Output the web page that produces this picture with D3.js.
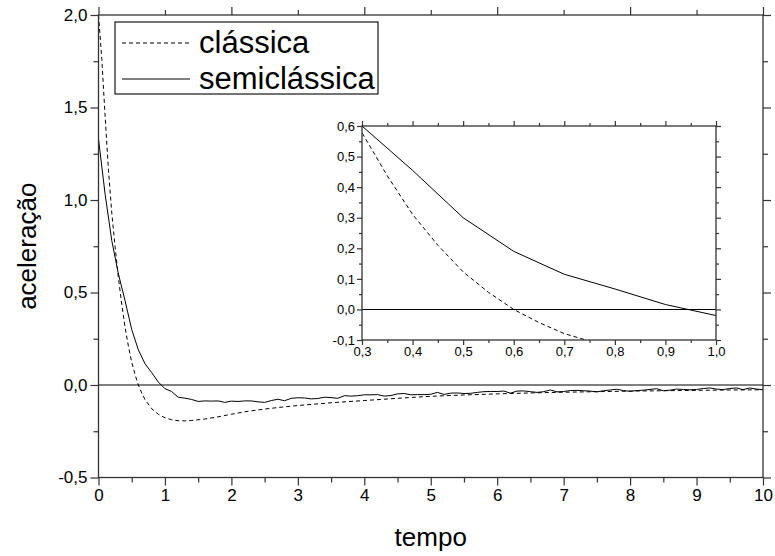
<!DOCTYPE html>
<html><head><meta charset="utf-8">
<script src="https://cdn.jsdelivr.net/npm/d3@7"></script>
<style>body{margin:0;background:#fff}svg{display:block;font-family:"Liberation Sans",Arial,sans-serif}</style>
</head><body><svg id="c" width="775" height="556"></svg>
<script>
// ---- data ----
const classicTime  = [0,0.05,0.1,0.15,0.2,0.25,0.3,0.35,0.4,0.45,0.5,0.55,0.6,0.65,0.7,0.8,0.9,1.0,1.1,1.2,1.3,1.4,1.6,1.8,2.0,2.25,2.5,2.75,3.0,3.5,4.0,4.5,5.0,5.5,6.0,6.5,7.0,7.5,8.0,8.5,9.0,9.5,10.0];
const classicAccel = [2.0,1.76,1.45,1.16,0.93,0.745,0.578,0.437,0.311,0.21,0.123,0.056,0.0,-0.043,-0.079,-0.128,-0.158,-0.177,-0.188,-0.193,-0.194,-0.192,-0.184,-0.172,-0.158,-0.142,-0.13,-0.12,-0.111,-0.096,-0.084,-0.072,-0.061,-0.054,-0.048,-0.043,-0.039,-0.036,-0.033,-0.031,-0.029,-0.027,-0.026];
const semiTime = [0,0.1,0.2,0.3,0.4,0.5,0.6,0.7,0.8,0.9,1.0,1.1,1.2,1.3,1.4,1.5,1.6,1.7,1.8,1.9,2.0,2.1,2.2,2.3,2.4,2.5,2.6,2.7,2.8,2.9,3.0,3.1,3.2,3.3,3.4,3.5,3.6,3.7,3.8,3.9,4.0,4.1,4.2,4.3,4.4,4.5,4.6,4.7,4.8,4.9,5.0,5.1,5.2,5.3,5.4,5.5,5.6,5.7,5.8,5.9,6.0,6.1,6.2,6.3,6.4,6.5,6.6,6.7,6.8,6.9,7.0,7.1,7.2,7.3,7.4,7.5,7.6,7.7,7.8,7.9,8.0,8.1,8.2,8.3,8.4,8.5,8.6,8.7,8.8,8.9,9.0,9.1,9.2,9.3,9.4,9.5,9.6,9.7,9.8,9.9,10.0];
const semiAccel = [1.33,1.03,0.78,0.60,0.455,0.300,0.190,0.115,0.067,0.016,-0.020,-0.035,-0.066,-0.071,-0.078,-0.089,-0.086,-0.087,-0.086,-0.094,-0.087,-0.089,-0.086,-0.086,-0.091,-0.094,-0.084,-0.077,-0.085,-0.072,-0.069,-0.070,-0.075,-0.073,-0.066,-0.068,-0.072,-0.058,-0.060,-0.058,-0.053,-0.053,-0.052,-0.060,-0.057,-0.048,-0.046,-0.053,-0.052,-0.052,-0.050,-0.040,-0.051,-0.044,-0.043,-0.046,-0.045,-0.040,-0.036,-0.035,-0.035,-0.033,-0.044,-0.033,-0.032,-0.036,-0.040,-0.036,-0.027,-0.037,-0.035,-0.030,-0.029,-0.031,-0.033,-0.037,-0.031,-0.027,-0.023,-0.030,-0.034,-0.030,-0.028,-0.024,-0.020,-0.031,-0.028,-0.022,-0.024,-0.026,-0.024,-0.019,-0.016,-0.022,-0.025,-0.019,-0.016,-0.025,-0.016,-0.022,-0.025];
const seriesNames = ["clássica","semiclássica"];
const mainXTicks = [0,1,2,3,4,5,6,7,8,9,10];
const mainXMinor = [0.5,1.5,2.5,3.5,4.5,5.5,6.5,7.5,8.5,9.5];
const mainTopMajor = [0,2,4,6,8,10];
const mainTopMinor = [1,3,5,7,9];
const mainYTicks = [-0.5,0,0.5,1.0,1.5,2.0];
const mainYMinor = [-0.25,0.25,0.75,1.25,1.75];
const insetXTicks = [0.3,0.4,0.5,0.6,0.7,0.8,0.9,1.0];
const insetXMinor = [0.35,0.45,0.55,0.65,0.75,0.85,0.95];
const insetYTicks = [-0.1,0,0.1,0.2,0.3,0.4,0.5,0.6];
const insetYMinor = [-0.05,0.05,0.15,0.25,0.35,0.45,0.55];
const xTitle = "tempo", yTitle = "aceleração";

// ---- drawing ----
const svg = d3.select("#c");
const comma1 = d => d3.format(".1f")(d).replace("−","-").replace(".",",");
const AX = "#333";

const classic = classicTime.map((t,i)=>[t,classicAccel[i]]);
const semi = semiTime.map((t,i)=>[t,semiAccel[i]]);

function panel(g, x, y, opt){
  const [x0,x1] = x.range(), [y0,y1] = y.range();
  const id = opt.id;
  svg.append("clipPath").attr("id",id).append("rect")
    .attr("x",x0).attr("y",y1).attr("width",x1-x0).attr("height",y0-y1);
  g.append("rect").attr("x",x0).attr("y",y1).attr("width",x1-x0).attr("height",y0-y1)
    .attr("fill","#fff");
  const plot = g.append("g").attr("clip-path",`url(#${id})`);
  plot.append("line").attr("x1",x0).attr("x2",x1).attr("y1",y(0)).attr("y2",y(0))
    .attr("stroke","#000").attr("stroke-width",1.1);
  const line = d3.line().x(d=>x(d[0])).y(d=>y(d[1]));
  plot.append("path").datum(classic).attr("d",line).attr("fill","none")
    .attr("stroke","#000").attr("stroke-width",1).attr("stroke-dasharray","4,3");
  plot.append("path").datum(semi).attr("d",line).attr("fill","none")
    .attr("stroke","#000").attr("stroke-width",1);

  const axes = [
    [d3.axisBottom(x), y0, opt.xTicks, opt.big, opt.xfmt],
    [d3.axisBottom(x), y0, opt.xMinor, opt.small, null],
    [d3.axisTop(x), y1, opt.topMajor, opt.big, null],
    [d3.axisTop(x), y1, opt.topMinor, opt.small, null],
    [d3.axisLeft(y), null, opt.yTicks, opt.big, comma1],
    [d3.axisLeft(y), null, opt.yMinor, opt.small, null],
    [d3.axisRight(y), null, opt.yTicks, opt.big, null],
    [d3.axisRight(y), null, opt.yMinor, opt.small, null]
  ];
  axes.forEach(([ax,pos,vals,size,fmt],i)=>{
    const a = ax.tickValues(vals).tickSize(size).tickSizeOuter(0).tickFormat(fmt||"").tickPadding(opt.pad);
    const gg = g.append("g");
    if(i<4) gg.attr("transform",`translate(0,${pos})`);
    else if(i<6) gg.attr("transform",`translate(${x0},0)`);
    else gg.attr("transform",`translate(${x1},0)`);
    gg.call(a);
    gg.select(".domain").remove();
    gg.selectAll(".tick line").attr("stroke",AX).attr("stroke-width",1.2);
    gg.selectAll("text").attr("fill","#000").style("font-size",opt.fs+"px")
      .style("font-family",'"Liberation Sans",Arial,sans-serif');
  });
  g.append("rect").attr("x",x0).attr("y",y1).attr("width",x1-x0).attr("height",y0-y1)
    .attr("fill","none").attr("stroke",AX).attr("stroke-width",1.3);
}

// main
const x = d3.scaleLinear([0,10],[98.5,763]);
const y = d3.scaleLinear([-0.5,2],[477.5,15]);
panel(svg.append("g"), x, y, {id:"cm", xTicks:mainXTicks, xMinor:mainXMinor, topMajor:mainTopMajor,
  topMinor:mainTopMinor, yTicks:mainYTicks, yMinor:mainYMinor, big:8, small:5, fs:17, pad:3, xfmt:d=>String(d)});

// axis titles
svg.append("text").attr("x",(x.range()[0]+x.range()[1])/2).attr("y",546).attr("text-anchor","middle")
  .style("font-size","26px").text(xTitle);
svg.append("text").attr("transform",`translate(36,${(y.range()[0]+y.range()[1])/2}) rotate(-90)`)
  .attr("text-anchor","middle").style("font-size","26px").text(yTitle);

// legend
const lg = svg.append("g");
lg.append("rect").attr("x",115).attr("y",22).attr("width",263).attr("height",72)
  .attr("fill","#fff").attr("stroke","#000").attr("stroke-width",1.1);
const legendY = [43,79];
seriesNames.forEach((n,i)=>{
  lg.append("line").attr("x1",122).attr("x2",190).attr("y1",legendY[i]).attr("y2",legendY[i])
    .attr("stroke","#000").attr("stroke-width",1).attr("stroke-dasharray",i===0?"4,3":null);
  lg.append("text").attr("x",199).attr("y",legendY[i]+10).style("font-size","31px").text(n);
});

// inset
const ix = d3.scaleLinear([0.3,1.0],[362,716]);
const iy = d3.scaleLinear([-0.1,0.6],[340,126]);
panel(svg.append("g"), ix, iy, {id:"ci", xTicks:insetXTicks, xMinor:insetXMinor, topMajor:insetXTicks,
  topMinor:insetXMinor, yTicks:insetYTicks, yMinor:insetYMinor, big:5, small:3, fs:13, pad:2, xfmt:comma1});
</script></body></html>
